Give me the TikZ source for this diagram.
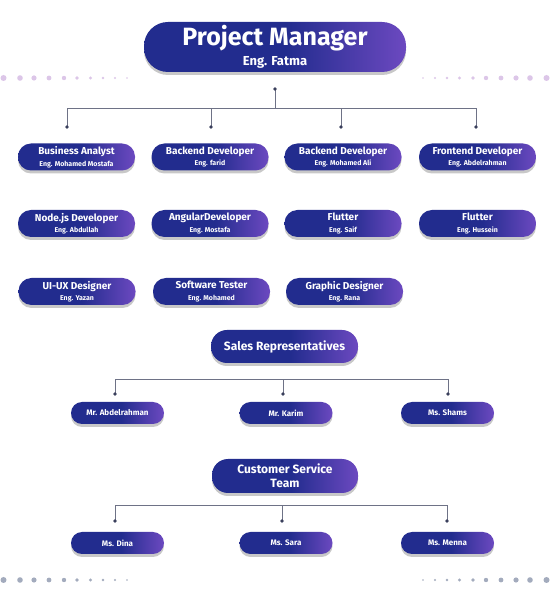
\documentclass[tikz,border=0pt]{standalone}
\usepackage{fontspec}
\setmainfont{Fira Sans}
\usetikzlibrary{shadows}
\definecolor{pillA}{HTML}{222C8E}
\definecolor{pillB}{HTML}{6C49C0}
\definecolor{linec}{HTML}{6E7286}
\definecolor{tipc}{HTML}{3A3F5C}
\definecolor{dotP}{HTML}{DCC6E8}
\definecolor{dotG}{HTML}{A3ABBD}
\pgfdeclarehorizontalshading{pillshade}{100bp}{color(0bp)=(pillA); color(52bp)=(pillA); color(75bp)=(pillB); color(100bp)=(pillB)}
\newcommand\twoline[2]{{\fontsize{10}{10}\selectfont #1}\\[-0.5pt]{\fontsize{7}{7}\selectfont #2}}
\tikzset{
  pill/.style={shading=pillshade, text=white, font=\bfseries, align=center,
    inner sep=0pt, rounded corners=13pt, minimum height=27pt, minimum width=117pt,
    drop shadow={shadow xshift=0pt, shadow yshift=-3pt, opacity=0.3, fill=black!70}},
  subpill/.style={pill, minimum width=93pt, minimum height=22pt, rounded corners=11pt,
    font=\bfseries\fontsize{8}{8}\selectfont},
  conn/.style={draw=linec, line width=0.9pt},
  tipdot/.style={fill=tipc},
}
\begin{document}
\begin{tikzpicture}[x=1pt,y=1pt]
\useasboundingbox[fill=white] (0,0) rectangle (550,600);

% decorative dots
\foreach \x/\r in {3.5/3, 20/2.8, 34/2.6, 49/2.4, 64/2.2, 77/1.9, 90.5/1.6, 103/1.4, 115/1.1, 127/0.8}{
  \fill[dotP] (\x,522) circle (\r);
  \fill[dotP] (550-\x,522) circle (\r);
  \fill[dotG] (\x,20) circle (\r);
  \fill[dotG] (550-\x,20) circle (\r);
}

% project manager
\node[pill, minimum width=262pt, minimum height=50pt, rounded corners=24pt] (pm) at (275,553)
  {{\fontsize{25}{25}\selectfont Project Manager}\\[4pt]{\fontsize{13}{13}\selectfont Eng. Fatma}};

% row 1
\node[pill] (ba) at (76.5,443) {\twoline{Business Analyst}{Eng. Mohamed Mostafa}};
\node[pill] (bd1) at (210,443) {\twoline{Backend Developer}{Eng. farid}};
\node[pill] (bd2) at (343,443) {\twoline{Backend Developer}{Eng. Mohamed Ali}};
\node[pill] (fd) at (477.5,443) {\twoline{Frontend Developer}{Eng. Abdelrahman}};
% row 2
\node[pill] (nd) at (76.5,376.5) {\twoline{Node.js Developer}{Eng. Abdullah}};
\node[pill] (ad) at (210,376.5) {\twoline{AngularDeveloper}{Eng. Mostafa}};
\node[pill] (fl1) at (343,376.5) {\twoline{Flutter}{Eng. Saif}};
\node[pill] (fl2) at (477.5,376.5) {\twoline{Flutter}{Eng. Hussein}};
% row 3
\node[pill] (ux) at (77,308.5) {\twoline{UI-UX Designer}{Eng. Yazan}};
\node[pill] (st) at (211.5,308.5) {\twoline{Software Tester}{Eng. Mohamed}};
\node[pill] (gd) at (344.5,308.5) {\twoline{Graphic Designer}{Eng. Rana}};

% top connectors
\coordinate (pmdot) at (275,511);
\coordinate (bus) at (275,492);
\coordinate (t1) at (67,473);
\coordinate (t2) at (211,473);
\coordinate (t3) at (341,473);
\coordinate (t4) at (476,473);
\draw[conn] (pmdot) -- (bus);
\foreach \t in {t1,t2,t3,t4}{\draw[conn] (\t) |- (bus);}
\foreach \t in {pmdot,t1,t2,t3,t4}{\fill[tipdot] (\t) circle (1.8);}

% sales
\node[pill, minimum width=147pt, minimum height=33pt, rounded corners=16pt,
  font=\bfseries\fontsize{12}{12}\selectfont] (sales) at (284.5,253.5) {Sales Representatives};
\node[subpill] (s1) at (117.5,187) {Mr. Abdelrahman};
\node[subpill] (s2) at (286,187) {Mr. Karim};
\node[subpill] (s3) at (447.5,187) {Ms. Shams};
\coordinate (sbus) at (283,221);
\coordinate (sd1) at (115,206);
\coordinate (sd2) at (283,206);
\coordinate (sd3) at (448,206);
\foreach \t in {sd1,sd2,sd3}{\draw[conn] (\t) |- (sbus);}
\draw[conn] (sd1 |- sbus) -- (sd3 |- sbus);
\foreach \t in {sd1,sd2,sd3}{\fill[tipdot] (\t) circle (1.8);}

% customer service
\node[pill, minimum width=146pt, minimum height=34pt, rounded corners=16pt,
  font=\bfseries\fontsize{12}{14}\selectfont] (cs) at (285,124) {Customer Service\\Team};
\node[subpill] (c1) at (117.5,57) {Ms. Dina};
\node[subpill] (c2) at (286,57) {Ms. Sara};
\node[subpill] (c3) at (447.5,57) {Ms. Menna};
\coordinate (cbus) at (282,95);
\coordinate (cd1) at (115,79);
\coordinate (cd2) at (282,79);
\coordinate (cd3) at (447,79);
\foreach \t in {cd1,cd2,cd3}{\draw[conn] (\t) |- (cbus);}
\draw[conn] (cd1 |- cbus) -- (cd3 |- cbus);
\foreach \t in {cd1,cd2,cd3}{\fill[tipdot] (\t) circle (1.8);}
\end{tikzpicture}
\end{document}
